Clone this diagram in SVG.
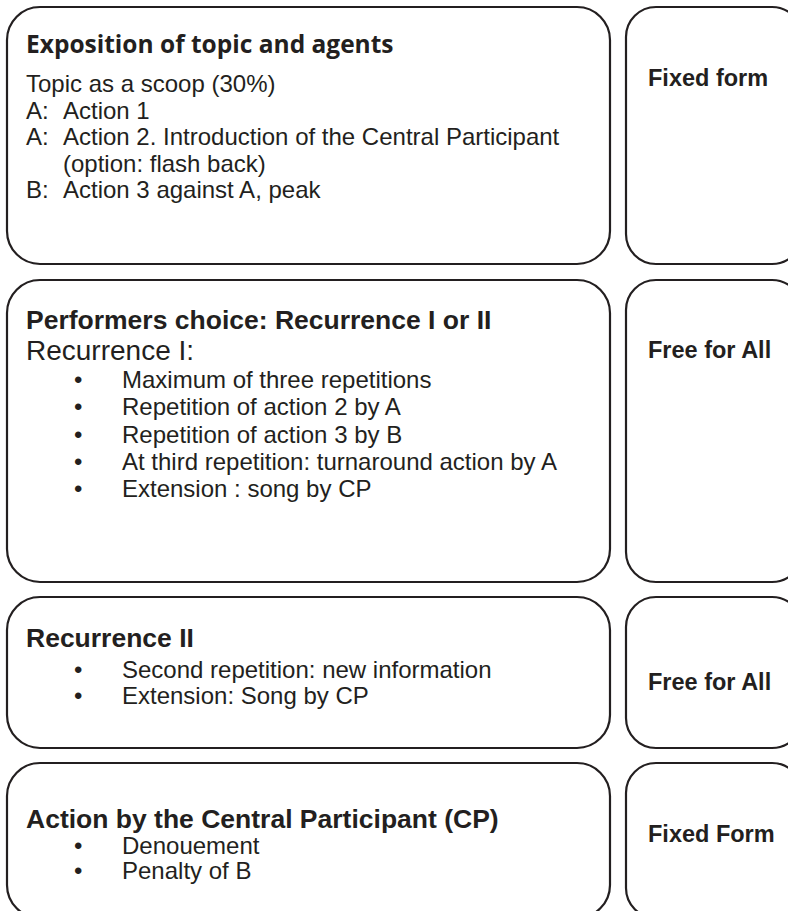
<svg xmlns="http://www.w3.org/2000/svg" width="788" height="911" viewBox="0 0 788 911">
  <style>
    .box { fill: #ffffff; stroke: #231f20; stroke-width: 2.2; }
    .t { font-family: "Liberation Sans", Arial, sans-serif; fill: #231f20; }
    .reg { font-size: 24px; }
    .big { font-size: 28px; }
    .head { font-size: 26.5px; font-weight: bold; }
    .lead { font-family: "Open Sans", Lato, sans-serif; font-size: 24.5px; font-weight: bold; fill: #231f20; }
    .tag { font-size: 23.5px; font-weight: bold; }
  </style>
  <rect width="788" height="911" fill="#ffffff"/>

  <!-- Section 1: exposition -->
  <g id="exposition">
    <rect class="box" x="7" y="7" width="603" height="257" rx="33" ry="33"/>
    <text class="lead" x="26" y="53">Exposition of topic and agents</text>
    <text class="t reg" x="26" y="92">Topic as a scoop (30%)</text>
    <text class="t reg" x="26" y="118.5">A:</text>
    <text class="t reg" x="63" y="118.5">Action 1</text>
    <text class="t reg" x="26" y="145">A:</text>
    <text class="t reg" x="63" y="145">Action 2. Introduction of the Central Participant</text>
    <text class="t reg" x="63" y="171.5">(option: flash back)</text>
    <text class="t reg" x="26" y="198">B:</text>
    <text class="t reg" x="63" y="198">Action 3 against A, peak</text>
  </g>
  <g id="exposition-form">
    <rect class="box" x="626" y="7" width="176" height="257" rx="30" ry="30"/>
    <text class="t tag" x="648" y="86">Fixed form</text>
  </g>

  <!-- Section 2: recurrence I -->
  <g id="recurrence-one">
    <rect class="box" x="7" y="280" width="603" height="302" rx="33" ry="33"/>
    <text class="t head" x="26" y="328.5">Performers choice: Recurrence I or II</text>
    <text class="t big" x="26" y="359.5">Recurrence I:</text>
    <text class="t reg" x="74" y="387.5">•</text>
    <text class="t reg" x="122" y="387.5">Maximum of three repetitions</text>
    <text class="t reg" x="74" y="415">•</text>
    <text class="t reg" x="122" y="415">Repetition of action 2 by A</text>
    <text class="t reg" x="74" y="443">•</text>
    <text class="t reg" x="122" y="443">Repetition of action 3 by B</text>
    <text class="t reg" x="74" y="470">•</text>
    <text class="t reg" x="122" y="470">At third repetition: turnaround action by A</text>
    <text class="t reg" x="74" y="497">•</text>
    <text class="t reg" x="122" y="497">Extension : song by CP</text>
  </g>
  <g id="recurrence-one-form">
    <rect class="box" x="626" y="280" width="176" height="302" rx="30" ry="30"/>
    <text class="t tag" x="648" y="358">Free for All</text>
  </g>

  <!-- Section 3: recurrence II -->
  <g id="recurrence-two">
    <rect class="box" x="7" y="597" width="603" height="151" rx="33" ry="33"/>
    <text class="t head" x="26" y="647">Recurrence II</text>
    <text class="t reg" x="74" y="678">•</text>
    <text class="t reg" x="122" y="678">Second repetition: new information</text>
    <text class="t reg" x="74" y="704">•</text>
    <text class="t reg" x="122" y="704">Extension: Song by CP</text>
  </g>
  <g id="recurrence-two-form">
    <rect class="box" x="626" y="597" width="176" height="151" rx="30" ry="30"/>
    <text class="t tag" x="648" y="690">Free for All</text>
  </g>

  <!-- Section 4: action by the central participant -->
  <g id="central-action">
    <rect class="box" x="7" y="763" width="603" height="155" rx="33" ry="33"/>
    <text class="t head" x="26" y="828">Action by the Central Participant (CP)</text>
    <text class="t reg" x="74" y="854">•</text>
    <text class="t reg" x="122" y="854">Denouement</text>
    <text class="t reg" x="74" y="879">•</text>
    <text class="t reg" x="122" y="879">Penalty of B</text>
  </g>
  <g id="central-action-form">
    <rect class="box" x="626" y="763" width="176" height="155" rx="30" ry="30"/>
    <text class="t tag" x="648" y="842">Fixed Form</text>
  </g>

  <g id="connectors"/>
</svg>
